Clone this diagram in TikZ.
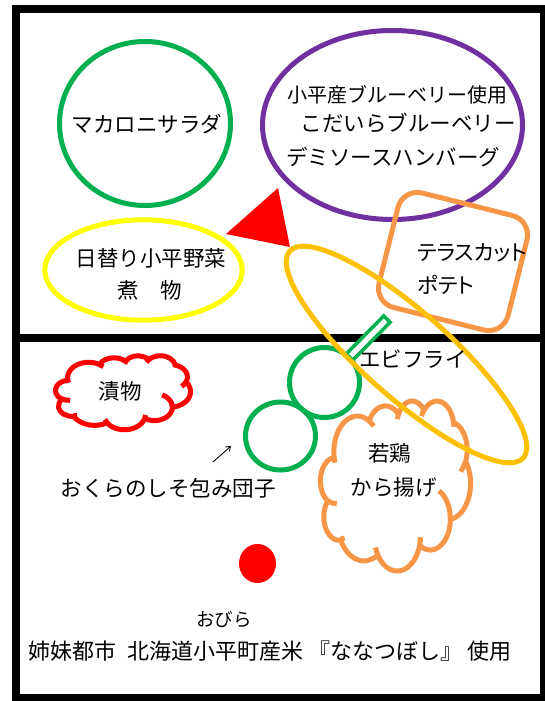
\documentclass[tikz,border=0pt]{standalone}
\usepackage{fontspec}
\setmainfont{Noto Sans CJK JP}
\newfontfamily\jpprop{Noto Sans CJK JP}[RawFeature=+palt]
\usetikzlibrary{arrows.meta}
\definecolor{pgreen}{HTML}{00B050}
\definecolor{ppurple}{HTML}{7030A0}
\definecolor{pyellow}{HTML}{FFFF00}
\definecolor{pred}{HTML}{FF0000}
\definecolor{porange}{HTML}{F79646}
\definecolor{pgold}{HTML}{FFC000}
% convert an OOXML arc (true angles) to TikZ parametric start/delta angles
\newcommand\cloudcalc[6]{%
  \pgfmathsetmacro\cldtmpA{atan(((#3)-(#4))*sin(#5)*cos(#5)/((#4)*cos(#5)*cos(#5)+(#3)*sin(#5)*sin(#5)))}%
  \pgfmathsetmacro\cldtmpB{atan(((#3)-(#4))*sin((#5)+(#6))*cos((#5)+(#6))/((#4)*cos((#5)+(#6))*cos((#5)+(#6))+(#3)*sin((#5)+(#6))*sin((#5)+(#6))))}%
  \pgfmathsetmacro\cldtmpS{(#5)+\cldtmpA}%
  \pgfmathsetmacro\cldtmpD{(#6)+\cldtmpB-\cldtmpA}%
  \xdef#1{\cldtmpS}\xdef#2{\cldtmpD}}
\cloudcalc{\qqsa}{\qqda}{6.753}{9.19}{-190.48748}{123.78053}
\cloudcalc{\qqsb}{\qqdb}{5.333}{7.267}{-144.10238}{89.94523}
\cloudcalc{\qqsc}{\qqdc}{4.365}{5.945}{-145.80792}{99.72302}
\cloudcalc{\qqsd}{\qqdd}{4.857}{6.595}{-130.98607}{117.24173}
\cloudcalc{\qqse}{\qqde}{5.333}{7.273}{-78.70888}{109.02692}
\cloudcalc{\qqsf}{\qqdf}{6.775}{9.22}{-46.26725}{130.269}
\cloudcalc{\qqsg}{\qqdg}{5.785}{7.867}{0.62502}{114.03333}
\cloudcalc{\qqsh}{\qqdh}{6.752}{9.215}{22.4516}{115.17255}
\cloudcalc{\qqsi}{\qqdi}{7.72}{10.543}{66.24263}{75.71102}
\cloudcalc{\qqsj}{\qqdj}{4.36}{5.918}{-274.94208}{146.73557}
\cloudcalc{\qqsk}{\qqdk}{4.345}{5.945}{-246.8285}{152.51885}
\cloudcalc{\qqSa}{\qqDa}{4.345}{5.945}{86.742}{26.4295}
\cloudcalc{\qqSb}{\qqDb}{4.36}{5.918}{73.61047}{11.44747}
\cloudcalc{\qqSc}{\qqDc}{6.752}{9.215}{137.62415}{14.0811}
\cloudcalc{\qqSd}{\qqDd}{6.752}{9.215}{6.45327}{15.99835}
\cloudcalc{\qqSe}{\qqDe}{5.785}{7.867}{-70.29235}{70.91737}
\cloudcalc{\qqSf}{\qqDf}{5.333}{7.273}{30.31803}{27.7515}
\cloudcalc{\qqSg}{\qqDg}{4.857}{6.595}{-13.74433}{14.85503}
\cloudcalc{\qqSh}{\qqDh}{4.857}{6.595}{-149.18145}{18.19537}
\cloudcalc{\qqSi}{\qqDi}{4.365}{5.945}{-163.49427}{17.68635}
\cloudcalc{\qqSj}{\qqDj}{6.753}{9.19}{-66.70695}{12.31935}
\cloudcalc{\qqSk}{\qqDk}{6.753}{9.19}{157.65435}{11.85817}
% PowerPoint-style cloud in box (x0,y0) size w x h
\newcommand\pptcloud[5]{%
\begin{scope}[shift={(#1,#2)}, xscale=#3/43.2, yscale=#4/43.2]
\draw[#5] (3.9,14.37)
  arc[start angle=\qqsa, delta angle=\qqda, x radius=6.753pt, y radius=9.19pt]
  arc[start angle=\qqsb, delta angle=\qqdb, x radius=5.333pt, y radius=7.267pt]
  arc[start angle=\qqsc, delta angle=\qqdc, x radius=4.365pt, y radius=5.945pt]
  arc[start angle=\qqsd, delta angle=\qqdd, x radius=4.857pt, y radius=6.595pt]
  arc[start angle=\qqse, delta angle=\qqde, x radius=5.333pt, y radius=7.273pt]
  arc[start angle=\qqsf, delta angle=\qqdf, x radius=6.775pt, y radius=9.22pt]
  arc[start angle=\qqsg, delta angle=\qqdg, x radius=5.785pt, y radius=7.867pt]
  arc[start angle=\qqsh, delta angle=\qqdh, x radius=6.752pt, y radius=9.215pt]
  arc[start angle=\qqsi, delta angle=\qqdi, x radius=7.72pt, y radius=10.543pt]
  arc[start angle=\qqsj, delta angle=\qqdj, x radius=4.36pt, y radius=5.918pt]
  arc[start angle=\qqsk, delta angle=\qqdk, x radius=4.345pt, y radius=5.945pt]
  -- cycle;
\draw[#5, fill=none]
  (4.693,26.177) arc[start angle=\qqSa, delta angle=\qqDa, x radius=4.345pt, y radius=5.945pt]
  (6.928,34.899) arc[start angle=\qqSb, delta angle=\qqDb, x radius=4.36pt, y radius=5.918pt]
  (16.478,39.09) arc[start angle=\qqSc, delta angle=\qqDc, x radius=6.752pt, y radius=9.215pt]
  (28.827,34.751) arc[start angle=\qqSd, delta angle=\qqDd, x radius=6.752pt, y radius=9.215pt]
  (34.129,22.954) arc[start angle=\qqSe, delta angle=\qqDe, x radius=5.785pt, y radius=7.867pt]
  (41.798,15.354) arc[start angle=\qqSf, delta angle=\qqDf, x radius=5.333pt, y radius=7.273pt]
  (38.324,5.426) arc[start angle=\qqSg, delta angle=\qqDg, x radius=4.857pt, y radius=6.595pt]
  (29.078,3.952) arc[start angle=\qqSh, delta angle=\qqDh, x radius=4.857pt, y radius=6.595pt]
  (22.141,4.72) arc[start angle=\qqSi, delta angle=\qqDi, x radius=4.365pt, y radius=5.945pt]
  (14.0,5.192) arc[start angle=\qqSj, delta angle=\qqDj, x radius=6.753pt, y radius=9.19pt]
  (4.127,15.789) arc[start angle=\qqSk, delta angle=\qqDk, x radius=6.753pt, y radius=9.19pt];
\end{scope}}
\begin{document}
\begin{tikzpicture}[x=1pt, y=1pt, yscale=-1,
  frameline/.style={line width=8pt, draw=black},
  outl/.style={line width=5pt},
  lbl/.style={inner sep=0pt, font=\fontsize{21.5}{26}\selectfont},
  smalllbl/.style={inner sep=0pt, font=\fontsize{20}{24}\selectfont},
  riblbl/.style={inner sep=0pt, font=\fontsize{18.5}{22}\selectfont},
  ricelbl/.style={inner sep=0pt, font=\fontsize{22}{27}\selectfont}]
\useasboundingbox (0,0) rectangle (545,701);
\fill[white] (0,0) rectangle (545,701);
% frame
\draw[frameline] (16,9) rectangle (544,698);
\draw[frameline] (16,338) -- (544,338);
% red triangle
\fill[pred] (226,234) -- (278,188) -- (290,247) -- cycle;
% shapes
\draw[outl, pyellow] (143.5,270) ellipse [x radius=98.7pt, y radius=50.2pt];
\draw[outl, pgreen] (145,123.5) ellipse [x radius=85.5pt, y radius=82pt];
\draw[outl, ppurple] (392.5,125) ellipse [x radius=130pt, y radius=94.5pt];
\draw[outl, porange, rounded corners=20pt, rotate around={14:(453,261.5)}]
  (386.5,202.5) -- (519.5,202.5) -- (519.5,320.5) -- (386.5,320.5) -- cycle;
\pptcloud{55.5}{355.5}{135}{74}{outl, pred}
\pptcloud{320.5}{400.5}{150}{170}{outl, porange}
% dango and skewer
\draw[line width=3.5pt, pgreen, fill=white, rotate around={-45.44:(324.5,382.5)}]
  (358.5,378) -- (413.5,378) -- (413.5,387) -- (358.5,387) -- cycle;
\draw[outl, pgreen] (324.5,382.5) circle [radius=35pt];
\draw[outl, pgreen] (280.5,436) ellipse [x radius=35pt, y radius=34pt];
% shrimp
\draw[outl, pgold, rotate around={41.5:(406.5,354.5)}] (406.5,354.5) ellipse [x radius=156pt, y radius=43pt];
% rice ball
\fill[pred] (257.5,563.5) ellipse [x radius=18.5pt, y radius=19.5pt];
% labels
\node[lbl] (macaroni) at (147,124) {マカロニサラダ};
\node[lbl] (nimono1) at (151,258) {日替り小平野菜};
\node[lbl] (nimono2) at (150,290) {煮　物};
\node[smalllbl] (hamb1) at (397.5,95) {小平産ブルーベリー使用};
\node[lbl] (hamb2) at (408.3,122.5) {こだいらブルーベリー};
\node[lbl] (hamb3) at (393.3,157) {デミソースハンバーグ};
\node[lbl, anchor=west] (potato1) at (417,253) {\jpprop テラスカット};
\node[lbl, anchor=west] (potato2) at (417,285) {\jpprop ポテト};
\node[lbl] (tsuke) at (120,391) {漬物};
\node[lbl] (dango) at (168,488) {おくらのしそ包み団子};
\node[lbl] (ebi) at (413,359) {エビフライ};
\node[lbl] (tori1) at (389.5,453) {若鶏};
\node[lbl] (tori2) at (393.5,487) {から揚げ};
\node[riblbl] (obira) at (224,620) {おびら};
\node[ricelbl] (rice) at (270,651) {姉妹都市\hspace{.47em}北海道小平町産米\hspace{.25em}『ななつぼし』\hspace{.2em}使用};
% small arrow
\coordinate (arS) at (213,462);
\coordinate (arE) at (231,446);
\draw[line width=0.9pt, -{Straight Barb[length=4pt, width=6pt]}] (arS) -- (arE);
\end{tikzpicture}
\end{document}
